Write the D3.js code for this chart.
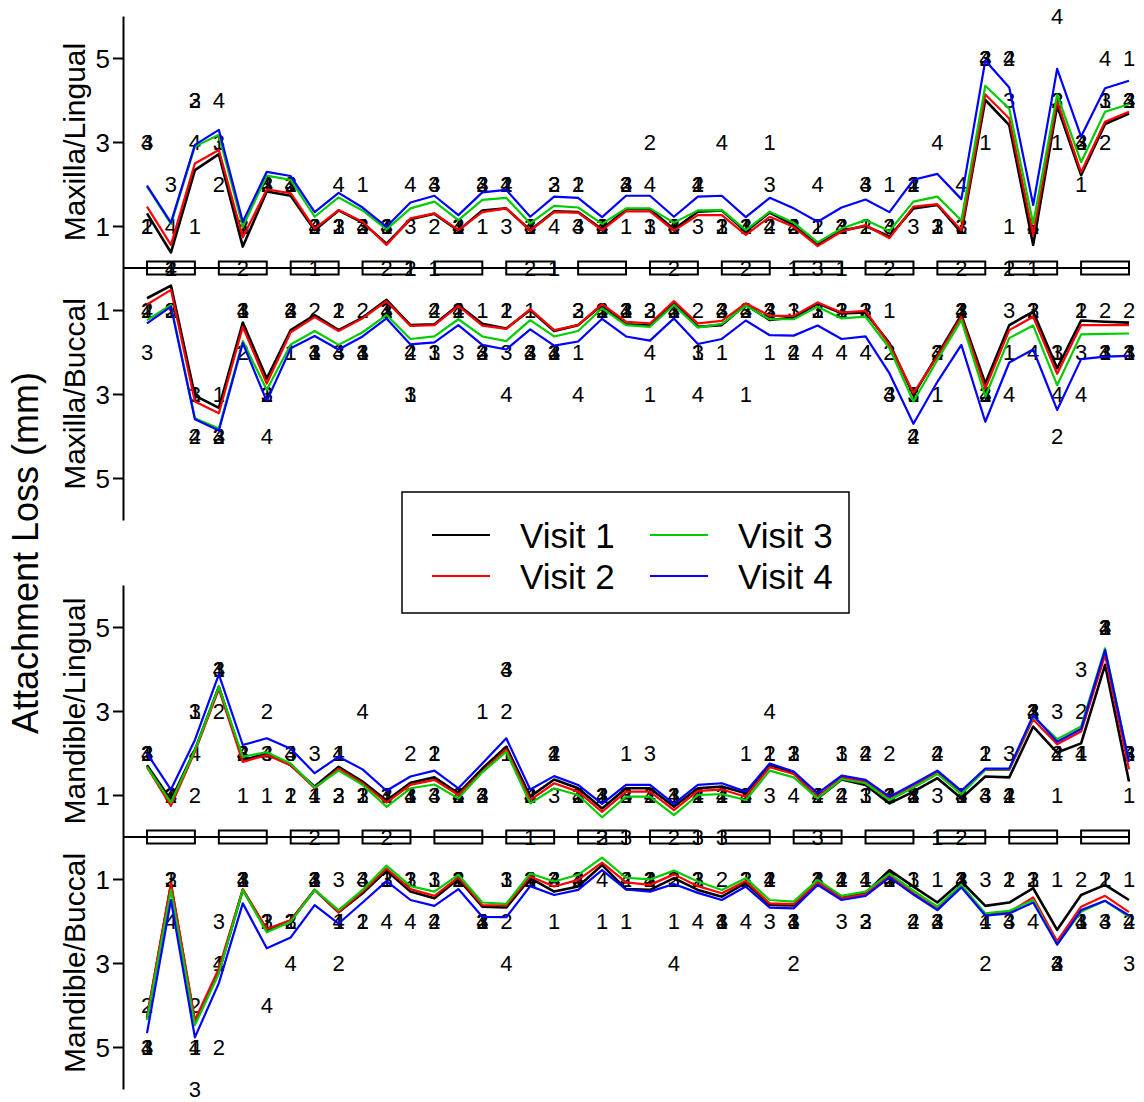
<!DOCTYPE html>
<html><head><meta charset="utf-8">
<script src="https://cdn.jsdelivr.net/npm/d3@7"></script>
<style>body{margin:0;background:#fff}svg{display:block}text{font-family:"Liberation Sans",Arial,Helvetica,sans-serif}</style>
</head><body><svg id="c" width="1144" height="1102"></svg>
<script>
const sites = d3.range(42);
const teeth = d3.range(14);
const visits = ["Visit 1","Visit 2","Visit 3","Visit 4"];
const visitColors = ["#000000","#FF0000","#00CD00","#0000FF"];
const yTicks = [1,3,5];
const panelNames = ["Maxilla/Lingual","Maxilla/Buccal","Mandible/Lingual","Mandible/Buccal"];
const yTitle = "Attachment Loss (mm)";

// fitted curves per visit (mm)
const maxLingualFit = [
 [1.30,0.37,2.33,2.71,0.51,1.82,1.72,0.90,1.37,1.08,0.58,1.16,1.29,0.89,1.37,1.42,0.90,1.35,1.33,0.92,1.40,1.40,0.92,1.34,1.37,0.87,1.32,1.02,0.55,0.89,1.00,0.75,1.42,1.50,0.84,4.00,3.40,0.55,3.86,2.21,3.43,3.68],
 [1.46,0.55,2.49,2.81,0.73,1.87,1.78,0.94,1.38,1.10,0.55,1.18,1.30,0.90,1.33,1.42,0.89,1.33,1.32,0.90,1.35,1.35,0.89,1.26,1.26,0.79,1.22,0.98,0.52,0.87,1.02,0.71,1.46,1.52,0.90,4.13,3.56,0.79,3.98,2.28,3.48,3.72],
 [1.94,1.05,2.89,3.17,0.98,2.20,2.10,1.22,1.68,1.37,0.92,1.42,1.58,1.14,1.62,1.67,1.06,1.48,1.44,1.05,1.42,1.42,1.08,1.37,1.38,0.90,1.34,1.08,0.61,0.94,1.14,0.88,1.58,1.70,1.13,4.34,3.79,1.06,4.13,2.52,3.72,3.90],
 [1.96,1.08,2.93,3.29,1.10,2.29,2.19,1.33,1.79,1.44,0.98,1.56,1.72,1.26,1.80,1.86,1.22,1.70,1.67,1.21,1.72,1.72,1.22,1.70,1.72,1.21,1.67,1.42,1.10,1.44,1.63,1.33,2.10,2.24,1.64,4.94,4.30,1.50,4.74,3.13,4.28,4.46]
];
const maxBuccalFit = [
 [0.72,0.42,3.04,3.33,1.30,2.63,1.48,1.12,1.48,1.18,0.76,1.36,1.34,0.88,1.33,1.44,1.00,1.50,1.36,0.88,1.34,1.37,0.84,1.40,1.36,0.87,1.24,1.18,0.84,1.08,1.06,1.79,3.02,2.07,1.12,2.75,1.36,1.04,2.39,1.25,1.28,1.30],
 [0.87,0.52,3.18,3.46,1.40,2.75,1.53,1.17,1.50,1.20,0.79,1.38,1.36,0.90,1.37,1.45,0.98,1.48,1.36,0.86,1.28,1.32,0.79,1.32,1.26,0.84,1.14,1.14,0.82,1.06,1.02,1.83,2.98,2.11,1.16,2.87,1.48,1.16,2.52,1.36,1.36,1.36],
 [1.24,0.88,3.58,3.82,1.74,2.90,1.82,1.50,1.83,1.53,1.12,1.69,1.63,1.22,1.63,1.74,1.24,1.63,1.50,0.96,1.36,1.40,0.88,1.42,1.33,0.90,1.22,1.22,0.92,1.20,1.16,1.91,3.18,2.19,1.24,3.06,1.67,1.37,2.79,1.58,1.57,1.56],
 [1.32,0.92,3.60,3.87,1.79,3.17,1.91,1.62,1.94,1.63,1.20,1.82,1.77,1.36,1.83,1.94,1.46,1.85,1.75,1.21,1.63,1.73,1.20,1.81,1.69,1.25,1.60,1.61,1.37,1.69,1.63,2.51,3.71,2.71,1.83,3.66,2.25,1.94,3.38,2.17,2.11,2.09]
];
const manLingualFit = [
 [1.71,0.88,2.07,3.58,1.83,1.98,1.71,1.20,1.67,1.32,0.87,1.29,1.42,1.04,1.63,2.15,0.96,1.37,1.16,0.68,1.16,1.16,0.72,1.16,1.20,1.04,1.71,1.54,0.92,1.37,1.24,0.80,1.08,1.40,0.92,1.44,1.42,2.63,2.01,2.23,4.10,1.32],
 [1.66,0.74,2.03,3.52,1.79,1.95,1.71,1.16,1.63,1.28,0.82,1.24,1.36,1.00,1.56,2.09,0.88,1.28,1.08,0.60,1.08,1.08,0.64,1.10,1.13,0.96,1.66,1.50,0.96,1.42,1.32,0.92,1.21,1.54,1.04,1.60,1.60,2.80,2.21,2.51,4.33,1.61],
 [1.67,0.82,2.07,3.58,1.91,2.02,1.75,1.18,1.58,1.24,0.72,1.16,1.25,0.92,1.54,2.03,0.80,1.16,1.00,0.47,0.96,0.96,0.52,1.00,1.02,0.88,1.58,1.42,0.92,1.38,1.28,0.88,1.18,1.50,1.02,1.61,1.61,2.87,2.33,2.63,4.49,1.79],
 [1.99,1.13,2.31,3.87,2.19,2.35,2.10,1.52,1.91,1.61,1.10,1.44,1.58,1.16,1.75,2.35,1.13,1.45,1.24,0.79,1.24,1.24,0.79,1.24,1.28,1.08,1.75,1.56,1.04,1.46,1.36,0.96,1.26,1.58,1.10,1.63,1.63,2.90,2.27,2.57,4.45,1.79]
];
const manBuccalFit = [
 [4.32,1.14,4.40,3.21,1.26,2.21,1.99,1.26,1.79,1.34,0.80,1.30,1.46,1.00,1.66,1.68,0.98,1.30,1.18,0.67,1.24,1.26,0.98,1.26,1.42,1.09,1.62,1.63,1.10,1.42,1.34,0.79,1.18,1.56,1.06,1.64,1.56,1.22,2.21,1.38,1.14,1.50],
 [4.28,1.10,4.36,3.13,1.24,2.19,1.98,1.26,1.79,1.30,0.75,1.24,1.40,0.96,1.62,1.63,0.94,1.18,1.02,0.61,1.08,1.14,0.89,1.17,1.34,1.05,1.58,1.60,1.08,1.46,1.36,0.90,1.33,1.70,1.17,1.84,1.79,1.44,2.48,1.66,1.40,1.79],
 [4.36,1.26,4.48,3.25,1.26,2.27,2.02,1.26,1.74,1.26,0.68,1.17,1.30,0.90,1.56,1.59,0.87,1.06,0.90,0.49,0.97,1.01,0.80,1.06,1.26,0.98,1.50,1.54,1.02,1.40,1.30,0.87,1.28,1.66,1.14,1.82,1.76,1.50,2.56,1.78,1.52,1.90],
 [4.67,1.50,4.77,3.48,1.58,2.65,2.39,1.62,2.06,1.56,1.05,1.50,1.64,1.24,1.90,1.91,1.17,1.38,1.26,0.79,1.25,1.30,1.12,1.33,1.50,1.18,1.68,1.70,1.14,1.50,1.40,0.96,1.37,1.74,1.20,1.87,1.82,1.56,2.56,1.74,1.52,1.87]
];

// observed whole-mm measurements per visit
const maxLingualObs = [
 [1,0,1,3,1,2,2,0,1,2,1,0,0,1,1,2,1,0,2,1,1,1,1,2,1,1,3,0,1,0,1,2,2,1,1,3,1,0,3,2,4,5],
 [1,0,4,2,0,2,2,1,1,1,0,0,1,1,2,2,0,2,2,1,2,3,0,2,1,0,1,1,1,1,1,0,2,1,0,5,5,1,4,3,3,4],
 [3,2,4,3,1,2,2,1,1,1,1,1,2,1,2,1,1,2,1,1,2,1,1,1,1,1,2,1,0,1,2,1,1,1,1,5,4,1,4,3,4,4],
 [3,1,3,4,1,2,2,1,2,1,1,2,2,1,2,2,1,1,1,1,2,2,1,2,3,1,1,1,2,1,2,1,2,3,2,5,5,1,6,3,5,4]
];
const maxBuccalObs = [
 [1,1,3,3,1,3,2,2,1,2,1,3,2,1,1,1,1,2,2,1,1,3,1,2,2,3,2,1,1,1,1,1,3,3,1,3,2,1,2,1,2,2],
 [1,1,4,4,2,3,1,1,1,1,1,2,1,1,2,1,2,2,1,1,1,1,1,1,1,1,1,2,1,1,1,2,4,2,1,3,0,1,4,1,1,1],
 [2,1,3,4,1,3,1,2,2,2,1,3,2,2,2,2,2,2,1,1,1,1,1,2,1,1,1,1,1,1,1,3,3,2,1,3,1,1,2,2,2,2],
 [1,0,4,4,1,4,1,2,2,2,1,2,1,1,2,3,2,2,3,1,1,2,1,3,1,1,1,2,2,2,2,3,4,2,1,3,3,2,3,3,2,2]
];
const manLingualObs = [
 [2,1,3,4,1,1,1,1,2,1,1,1,2,1,3,2,0,2,1,1,2,1,1,1,1,2,2,2,1,2,1,1,1,0,1,2,1,3,1,2,5,1],
 [2,1,1,3,2,3,1,0,1,1,0,2,2,1,1,3,1,2,1,1,1,1,0,1,1,1,2,2,1,1,2,2,1,2,0,2,1,3,2,3,5,2],
 [2,1,3,4,2,2,2,2,1,1,1,1,1,1,1,4,1,1,1,1,1,2,1,0,0,1,1,2,0,2,1,1,1,1,1,1,2,3,3,4,5,2],
 [2,1,2,4,2,2,2,1,2,3,1,1,1,1,1,4,1,2,1,1,1,1,1,1,1,1,3,1,1,1,2,1,1,2,1,1,1,3,2,2,5,2]
];
const manBuccalObs = [
 [5,1,5,3,1,2,2,1,2,2,1,1,1,1,2,1,1,2,1,2,2,1,2,1,2,1,1,2,1,1,1,1,1,1,1,2,1,1,1,2,1,1],
 [4,1,4,5,1,2,2,1,3,2,1,1,2,1,2,2,1,1,1,0,1,1,1,1,1,1,1,3,1,1,2,1,2,2,1,3,1,1,3,1,1,2],
 [5,1,6,2,1,2,2,1,1,1,1,1,1,1,2,1,1,1,1,0,0,1,1,1,2,1,2,2,1,2,2,1,1,2,1,1,2,1,3,2,2,3],
 [5,2,5,3,1,4,3,1,2,1,2,2,2,1,2,3,1,1,1,1,1,1,3,2,2,2,1,2,1,1,1,1,2,2,1,2,2,2,3,2,2,2]
];

const fits = [maxLingualFit, maxBuccalFit, manLingualFit, manBuccalFit];
const obs = [maxLingualObs, maxBuccalObs, manLingualObs, manBuccalObs];

// ---- layout ----
const svg = d3.select("#c");
svg.append("rect").attr("width",1144).attr("height",1102).attr("fill","#fff");
const x = d3.scaleLinear().domain([0,41]).range([147,1129]);
const axisX = 123;
const layout = [{base:268,dir:-1},{base:268,dir:1},{base:837,dir:-1},{base:837,dir:1}];
const span = 252;
const FONT = '"Liberation Sans",Arial,Helvetica,sans-serif';

[268,837].forEach(b=>{
  svg.append("line").attr("x1",axisX).attr("x2",x(41)).attr("y1",b).attr("y2",b)
    .attr("stroke","#000").attr("stroke-width",2);
  svg.selectAll(null).data(teeth).enter().append("rect")
    .attr("x",k=>x(3*k)).attr("width",k=>x(3*k+2)-x(3*k))
    .attr("y",b-6.5).attr("height",13)
    .attr("fill","none").attr("stroke","#000").attr("stroke-width",2);
});

layout.forEach((L,p)=>{
  const y = d3.scaleLinear().domain([0,6]).range([L.base, L.base + L.dir*span]);
  const g = svg.append("g");
  const ax = g.append("g").attr("transform",`translate(${axisX},0)`)
    .call(d3.axisLeft(y).tickValues(yTicks).tickSize(10).tickSizeOuter(0).tickPadding(3).tickFormat(d3.format("d")));
  ax.select(".domain").attr("stroke-width",2);
  ax.selectAll(".tick line").attr("stroke-width",2);
  ax.selectAll(".tick text").attr("font-size",26).attr("font-family",FONT).attr("fill","#000").attr("dy","0.36em");
  g.append("text").attr("transform",`translate(85,${L.base + L.dir*span/2}) rotate(-90)`)
    .attr("text-anchor","middle").attr("font-size",30).attr("fill","#000").text(panelNames[p]);
  obs[p].forEach((arr,v)=>{
    g.selectAll(null).data(arr).enter().append("text")
      .attr("x",(d,i)=>x(i)).attr("y",d=>y(d)).attr("dy","0.36em")
      .attr("text-anchor","middle").attr("font-size",22).attr("fill","#000")
      .text(String(v+1));
  });
  const line = d3.line().x((d,i)=>x(i)).y(d=>y(d));
  fits[p].forEach((arr,v)=>{
    g.append("path").attr("d",line(arr)).attr("fill","none")
      .attr("stroke",visitColors[v]).attr("stroke-width",v===0?2.6:2.2)
      .attr("stroke-linejoin","round");
  });
});

svg.append("text").attr("transform","translate(38,553) rotate(-90)")
  .attr("text-anchor","middle").attr("font-size",36).attr("fill","#000").text(yTitle);

const lg = svg.append("g");
lg.append("rect").attr("x",402).attr("y",492).attr("width",447).attr("height",121)
  .attr("fill","#fff").attr("stroke","#000").attr("stroke-width",1.5);
const legPos = [{lx:432,ty:535},{lx:432,ty:576},{lx:650,ty:535},{lx:650,ty:576}];
visits.forEach((v,i)=>{
  const P = legPos[i];
  lg.append("line").attr("x1",P.lx).attr("x2",P.lx+58).attr("y1",P.ty).attr("y2",P.ty)
    .attr("stroke",visitColors[i]).attr("stroke-width",2);
  lg.append("text").attr("x",P.lx+88).attr("y",P.ty).attr("dy","0.36em")
    .attr("font-size",35).attr("fill","#000").text(v);
});
</script></body></html>
